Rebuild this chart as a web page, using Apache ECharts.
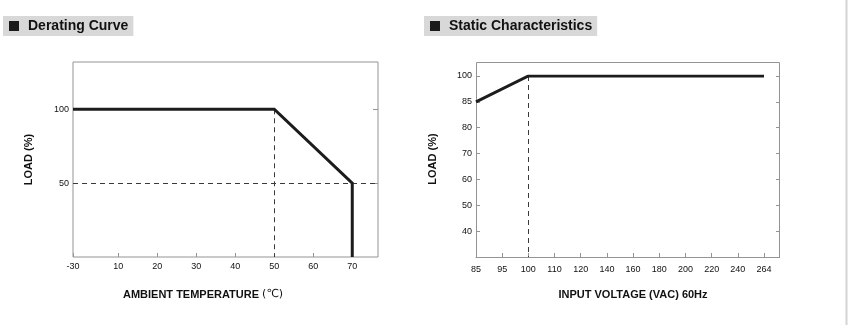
<!DOCTYPE html>
<html>
<head>
<meta charset="utf-8">
<script src="https://cdn.jsdelivr.net/npm/echarts@6/dist/echarts.min.js"></script>
<style>
  html, body { margin: 0; padding: 0; background: #fff; }
  #chart { width: 849px; height: 325px; }
</style>
</head>
<body>
<div id="chart"></div>
<script>
// Derating curve: ambient temperature (°C) against output load (%)
const derateTemps = [-30, 50, 70, 70];
const derateLoads = [100, 100, 50, 0];
const tempTicks = [-30, 10, 20, 30, 40, 50, 60, 70];
const derateLoadTicks = [50, 100];
const kneeTemp = 50;
const kneeLoad = 100;
const cutoffLoad = 50;

// Static characteristics: input voltage (VAC) against output load (%)
const voltageTicks = ['85', '95', '100', '110', '120', '140', '160', '180', '200', '220', '240', '264'];
const staticLoadTicks = ['', '40', '50', '60', '70', '80', '85', '100'];
const staticVoltages = ['85', '100', '264'];
const staticLoads = ['85', '100', '100'];
const fullLoadVoltage = '100';

const FONT = 'Liberation Sans, Arial, sans-serif';
const INK = '#1c1c1c';
const FRAME = '#949494';
const tickLabel = { fontSize: 9, color: '#111', fontFamily: FONT };
const axisName = { fontSize: 11, fontWeight: 'bold', color: '#111', fontFamily: FONT };
const guide = { type: [5, 4], color: '#3a3a3a', width: 1 };

function heading(x, label) {
  return {
    left: x, top: 16,
    text: '{sq|}{gap|}' + label,
    backgroundColor: '#d8d8d8',
    padding: [3, 5, 3, 6],
    textStyle: {
      fontSize: 14, fontWeight: 'bold', fontFamily: FONT, color: '#111', lineHeight: 14,
      rich: {
        sq: { width: 10, height: 10, backgroundColor: '#1a1a1a' },
        gap: { width: 9 }
      }
    }
  };
}

const chart = echarts.init(document.getElementById('chart'), null, { renderer: 'canvas' });

chart.setOption({
  animation: false,
  backgroundColor: '#fff',
  title: [heading(3, 'Derating Curve'), heading(424, 'Static Characteristics')],
  grid: [
    { left: 73, right: 471, top: 62, bottom: 68, show: true, borderColor: FRAME, borderWidth: 1, backgroundColor: 'transparent' },
    { left: 476, right: 85, top: 76, bottom: 68 }
  ],
  graphic: [
    // outer frame of the static-characteristics plot
    { type: 'rect', shape: { x: 476.5, y: 62.5, width: 303, height: 195 }, style: { fill: 'none', stroke: FRAME, lineWidth: 1 }, silent: true, z: 0 },
    // page edge rule
    { type: 'line', shape: { x1: 846.5, y1: 0, x2: 846.5, y2: 325 }, style: { stroke: '#d4d4d4', lineWidth: 2 }, silent: true, z: 0 }
  ],
  xAxis: [
    {
      type: 'value', gridIndex: 0, min: -30, max: 76.6,
      breaks: [{ start: -28, end: 8, gap: 7.6 }],
      breakArea: { show: false },
      axisLine: { show: false },
      axisTick: { show: true, inside: true, length: 4, customValues: tempTicks, lineStyle: { color: FRAME } },
      axisLabel: Object.assign({ customValues: tempTicks, margin: 5 }, tickLabel),
      splitLine: { show: false },
      name: '{b|AMBIENT TEMPERATURE }{l|(℃)}',
      nameLocation: 'middle', nameGap: 32,
      nameTextStyle: Object.assign({ padding: [0, 45, 0, 0], rich: { b: axisName, l: { fontSize: 11, color: '#111', fontFamily: 'DejaVu Sans, sans-serif', fontWeight: 'normal' } } }, axisName)
    },
    {
      type: 'category', gridIndex: 1, data: voltageTicks, boundaryGap: false,
      axisLine: { show: true, lineStyle: { color: FRAME } },
      axisTick: { show: true, inside: true, length: 4, interval: 0, lineStyle: { color: FRAME } },
      axisLabel: Object.assign({ interval: 0, margin: 8 }, tickLabel),
      splitLine: { show: false },
      name: 'INPUT VOLTAGE (VAC) 60Hz',
      nameLocation: 'middle', nameGap: 32,
      nameTextStyle: Object.assign({ padding: [0, 0, 0, 26] }, axisName)
    }
  ],
  yAxis: [
    {
      type: 'value', gridIndex: 0, min: 0, max: 132,
      axisLine: { show: false },
      axisTick: { show: false },
      axisLabel: Object.assign({ customValues: derateLoadTicks, margin: 4 }, tickLabel),
      splitLine: { show: false },
      name: 'LOAD (%)', nameLocation: 'middle', nameGap: 39,
      nameTextStyle: axisName
    },
    {
      type: 'value', gridIndex: 0, position: 'right', min: 0, max: 132,
      axisLine: { show: false },
      axisTick: { show: true, inside: true, length: 5, customValues: derateLoadTicks, lineStyle: { color: FRAME } },
      axisLabel: { show: false },
      splitLine: { show: false }
    },
    {
      type: 'category', gridIndex: 1, data: staticLoadTicks, boundaryGap: false,
      axisLine: { show: false },
      axisTick: { show: true, inside: true, length: 4, interval: 0, lineStyle: { color: FRAME } },
      axisLabel: Object.assign({ interval: 0, margin: 4 }, tickLabel),
      splitLine: { show: false },
      name: 'LOAD (%)', nameLocation: 'middle', nameGap: 38,
      nameTextStyle: Object.assign({ padding: [0, 0, 0, 15] }, axisName)
    },
    {
      type: 'category', gridIndex: 1, data: staticLoadTicks, boundaryGap: false,
      position: 'right', offset: 16,
      axisLine: { show: false },
      axisTick: { show: true, inside: true, length: 4, interval: 0, lineStyle: { color: FRAME } },
      axisLabel: { show: false },
      splitLine: { show: false }
    }
  ],
  series: [
    {
      type: 'line', xAxisIndex: 0, yAxisIndex: 0,
      data: derateTemps.map((t, i) => [t, derateLoads[i]]),
      symbol: 'none',
      lineStyle: { color: INK, width: 3, join: 'miter' },
      z: 3,
      markLine: {
        silent: true, symbol: ['none', 'none'], label: { show: false },
        lineStyle: guide, z: 1,
        data: [
          [{ coord: [kneeTemp, kneeLoad] }, { coord: [kneeTemp, 0] }],
          { yAxis: cutoffLoad }
        ]
      }
    },
    {
      type: 'line', xAxisIndex: 1, yAxisIndex: 2,
      data: staticVoltages.map((v, i) => [v, staticLoads[i]]),
      symbol: 'none',
      lineStyle: { color: INK, width: 3, join: 'miter' },
      z: 3,
      markLine: {
        silent: true, symbol: ['none', 'none'], label: { show: false },
        lineStyle: guide, z: 1,
        data: [
          [{ coord: [fullLoadVoltage, staticLoads[1]] }, { coord: [fullLoadVoltage, staticLoadTicks[0]] }]
        ]
      }
    }
  ]
});
</script>
</body>
</html>
